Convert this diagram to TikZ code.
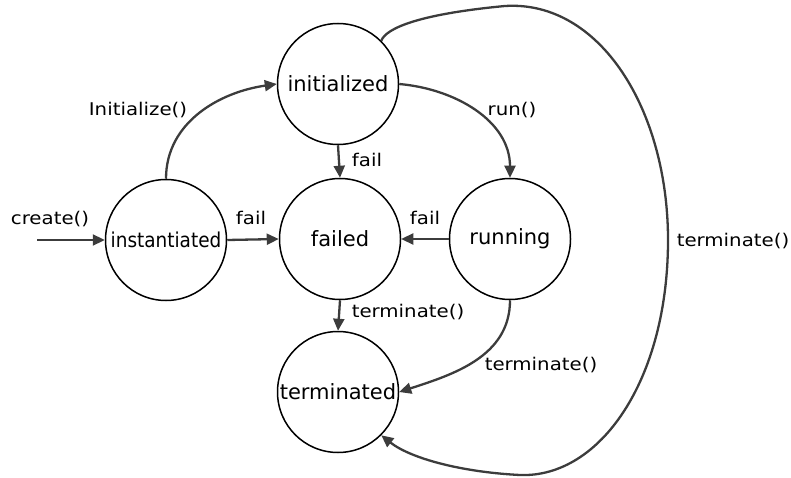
\documentclass[tikz,border=0pt]{standalone}
\usepackage{fontspec}
\setmainfont{DejaVu Sans}
\newfontfamily\lblfont[FakeStretch=1.13]{DejaVu Sans}
\newfontfamily\narrowfont[FakeStretch=0.9]{DejaVu Sans}
\usetikzlibrary{arrows.meta}
\begin{document}
\begin{tikzpicture}[x=1pt,y=-1pt,
  state/.style={circle,draw=black,line width=1.5pt,minimum size=121pt,inner sep=0pt,font=\fontsize{21}{24}\selectfont},
  trans/.style={draw={rgb,255:red,60;green,60;blue,60},line width=2.3pt,-{Triangle[length=12pt,width=11pt]}},
  lbl/.style={anchor=base,inner sep=0pt,font=\lblfont\fontsize{17.5}{20}\selectfont}]
\useasboundingbox (0,0) rectangle (791,478);

% states
\node[state,font=\narrowfont\fontsize{20.5}{24}\selectfont] (inst) at (166,240) {instantiated};
\node[state] (ini)  at (338,84)  {initialized};
\node[state] (fail) at (340,239) {failed};
\node[state] (run)  at (510,239) {running};
\node[state] (term) at (338,392) {terminated};

\coordinate (start) at (37,240);

% transitions
\draw[trans] (start) -- (inst.west);
\draw[trans] (inst.north) to[out=90,in=188] (ini.west);
\draw[trans] (inst.east) -- (fail.west);
\draw[trans] (ini.south) -- (fail.north);
\draw[trans] (ini.east) to[out=-5,in=90] (run.north);
\draw[trans] (run.west) -- (fail.east);
\draw[trans] (fail.south) -- (term.north);
\draw[trans] (run.south) to[out=-90,in=18] (term.east);
\draw[trans] (ini.45) .. controls (386,28) and (420,14) .. (505,6)
  .. controls (600,0) and (668,110) .. (668,240)
  .. controls (668,380) and (600,478) .. (520,475)
  .. controls (460,472) and (410,458) .. (term.-45);

% labels
\node[lbl] at (50,225) {create()};
\node[lbl] at (138,116) {Initialize()};
\node[lbl] at (251,225) {fail};
\node[lbl] at (367,167) {fail};
\node[lbl] at (512,116) {run()};
\node[lbl] at (425,225) {fail};
\node[lbl] at (408,317) {terminate()};
\node[lbl] at (541,370) {terminate()};
\node[lbl] at (733,246) {terminate()};
\end{tikzpicture}
\end{document}
